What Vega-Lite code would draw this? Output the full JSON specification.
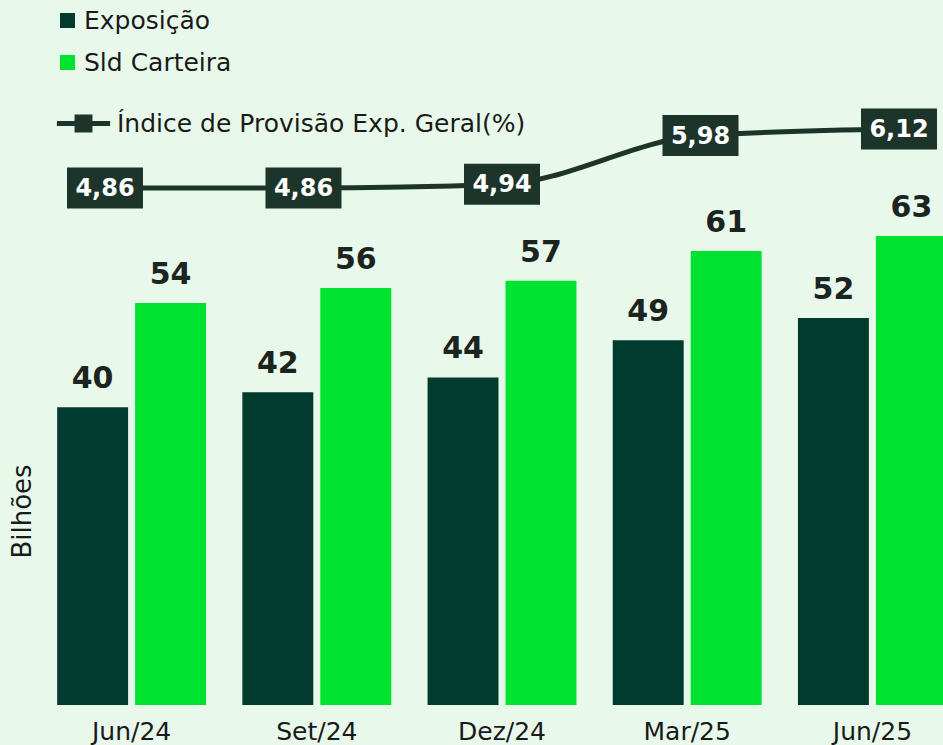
{
  "$schema": "https://vega.github.io/schema/vega-lite/v6.json",
  "autosize": {"type": "none"},
  "width": 926,
  "height": 705,
  "padding": {"left": 39, "top": 0, "right": 0, "bottom": 40},
  "background": "#e8f9eb",
  "config": {
    "view": {"stroke": null},
    "font": "DejaVu Sans",
    "axis": {"labelFont": "DejaVu Sans", "titleFont": "DejaVu Sans"},
    "legend": {"labelFont": "DejaVu Sans"}
  },
  "datasets": {
    "barras": [
      {"periodo": "Jun/24", "serie": "Exposição", "valor": 40},
      {"periodo": "Jun/24", "serie": "Sld Carteira", "valor": 54},
      {"periodo": "Set/24", "serie": "Exposição", "valor": 42},
      {"periodo": "Set/24", "serie": "Sld Carteira", "valor": 56},
      {"periodo": "Dez/24", "serie": "Exposição", "valor": 44},
      {"periodo": "Dez/24", "serie": "Sld Carteira", "valor": 57},
      {"periodo": "Mar/25", "serie": "Exposição", "valor": 49},
      {"periodo": "Mar/25", "serie": "Sld Carteira", "valor": 61},
      {"periodo": "Jun/25", "serie": "Exposição", "valor": 52},
      {"periodo": "Jun/25", "serie": "Sld Carteira", "valor": 63}
    ],
    "indice": [
      {"periodo": "Jun/24", "indice": 4.86},
      {"periodo": "Set/24", "indice": 4.86},
      {"periodo": "Dez/24", "indice": 4.94},
      {"periodo": "Mar/25", "indice": 5.98},
      {"periodo": "Jun/25", "indice": 6.12}
    ]
  },
  "layer": [
    {
      "data": {"name": "barras"},
      "encoding": {
        "x": {
          "field": "periodo", "type": "nominal", "sort": null,
          "scale": {"paddingInner": 0.196, "paddingOuter": 0.098},
          "axis": {"title": null, "ticks": false, "domain": false, "labelAngle": 0,
                   "labelFontSize": 25, "labelColor": "#1a1a1a", "labelPadding": 14}
        },
        "xOffset": {"field": "serie", "type": "nominal", "sort": ["Exposição", "Sld Carteira"],
                    "scale": {"paddingInner": 0.09, "paddingOuter": 0}},
        "y": {
          "field": "valor", "type": "quantitative",
          "scale": {"domain": [0, 94.7], "nice": false, "zero": true},
          "axis": {"title": "Bilhões", "labels": false, "ticks": false, "domain": false, "grid": false,
                   "titleFontSize": 26, "titleFontWeight": "normal", "titleColor": "#1a1a1a",
                   "titleX": -17, "titleY": 511, "titleAngle": -90, "titleAlign": "center", "titleBaseline": "middle"}
        }
      },
      "layer": [
        {
          "mark": {"type": "bar"},
          "encoding": {
            "color": {
              "field": "serie", "type": "nominal",
              "scale": {"domain": ["Exposição", "Sld Carteira"], "range": ["#013b2d", "#00e230"]},
              "legend": {"title": null, "orient": "none", "legendX": 16, "legendY": 8,
                         "symbolType": "square", "symbolSize": 225, "symbolStrokeWidth": 0,
                         "labelFontSize": 25, "labelColor": "#1a1a1a", "labelOffset": 4,
                         "rowPadding": 16, "padding": 0, "labelLimit": 0}
            }
          }
        },
        {
          "mark": {"type": "text", "fontSize": 30, "fontWeight": "bold", "baseline": "alphabetic",
                   "align": "center", "dy": -19, "color": "#1c2420"},
          "encoding": {"text": {"field": "valor", "type": "quantitative"}}
        }
      ]
    },
    {
      "data": {"name": "indice"},
      "encoding": {
        "x": {"field": "periodo", "type": "ordinal", "sort": null,
              "scale": {"type": "point", "padding": 0.3325}, "axis": null},
        "y": {"field": "indice", "type": "quantitative",
              "scale": {"domain": [-6.16, 8.87], "nice": false, "zero": false}, "axis": null}
      },
      "layer": [
        {
          "mark": {"type": "line", "interpolate": "monotone", "strokeWidth": 5},
          "encoding": {
            "stroke": {
              "datum": "Índice de Provisão Exp. Geral(%)", "type": "nominal",
              "scale": {"range": ["#1d342b"]},
              "legend": {"title": null, "orient": "none", "legendX": 14, "legendY": 93,
                         "symbolType": "M-0.95,0H0.95M-0.23,-0.23H0.23V0.23H-0.23Z",
                         "symbolSize": 3136, "symbolStrokeWidth": 5, "symbolFillColor": "#1d342b",
                         "symbolStrokeColor": "#1d342b",
                         "labelFontSize": 25, "labelColor": "#1a1a1a", "labelOffset": 3, "padding": 0,
                         "labelLimit": 0}
            }
          }
        },
        {
          "mark": {"type": "point", "shape": "M-1,-0.54H1V0.54H-1Z", "size": 5776,
                   "filled": true, "color": "#1d342b", "opacity": 1, "strokeWidth": 0}
        },
        {
          "mark": {"type": "text", "fontSize": 24, "fontWeight": "bold", "color": "white",
                   "align": "center", "baseline": "middle", "dy": 1,
                   "text": {"expr": "replace(format(datum.indice, '.2f'), '.', ',')"}}
        }
      ]
    }
  ],
  "resolve": {"scale": {"x": "independent", "y": "independent", "color": "independent"}}
}
